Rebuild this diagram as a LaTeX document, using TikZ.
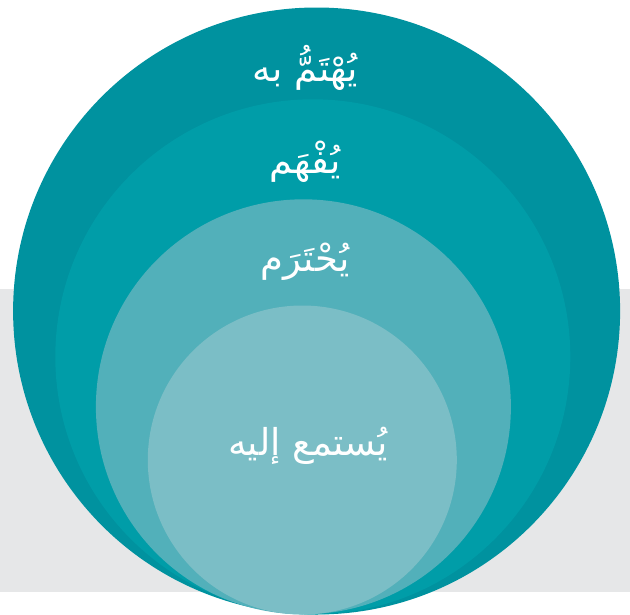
\documentclass[tikz,border=0pt]{standalone}
\usepackage{fontspec}
\newfontfamily\arabicfont[Script=Arabic]{DejaVu Sans}
\TeXXeTstate=1
\definecolor{gbg}{RGB}{230,231,232}
\definecolor{tealA}{RGB}{0,146,159}
\definecolor{tealB}{RGB}{0,157,168}
\definecolor{tealC}{RGB}{82,176,186}
\definecolor{tealD}{RGB}{123,190,198}
\begin{document}
\begin{tikzpicture}[x=1pt,y=-1pt,
  ring/.style={circle,inner sep=0pt,outer sep=0pt,draw=none},
  lbl/.style={text=white,font=\arabicfont\fontsize{37}{44}\selectfont,inner sep=0pt}]
\useasboundingbox (0,0) rectangle (630,614);
\fill[gbg] (0,289) rectangle (630,592);
\node[ring,fill=tealA,minimum size=607pt] (c1) at (316.6,311) {};
\node[ring,fill=tealB,minimum size=515pt] (c2) at (312.8,356.8) {};
\node[ring,fill=tealC,minimum size=415pt] (c3) at (303.4,406.8) {};
\node[ring,fill=tealD,minimum size=309pt] (c4) at (302.3,460) {};
\node[lbl] (t1) at (305,68) {\beginR يُهْتَمُّ به\endR};
\node[lbl] (t2) at (305,162) {\beginR يُفْهَم\endR};
\node[lbl] (t3) at (305,262) {\beginR يُحْتَرَم\endR};
\node[lbl] (t4) at (308,446) {\beginR يُستمع إليه\endR};
\end{tikzpicture}
\end{document}
